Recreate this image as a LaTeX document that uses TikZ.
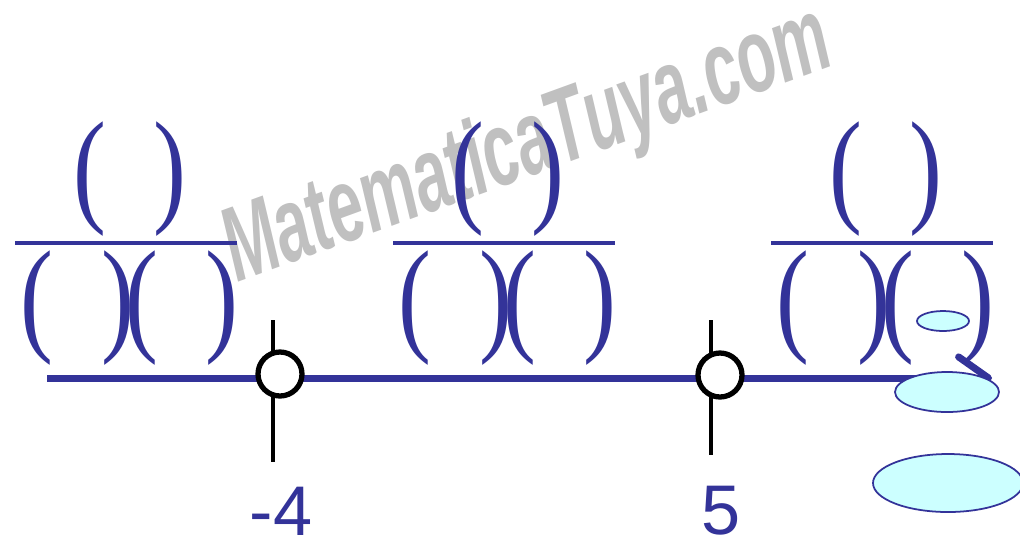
\documentclass[tikz,border=0pt]{standalone}
\usepackage{fontspec}
\setmainfont{Liberation Serif}
\newfontfamily\arialfont{Liberation Sans}
\usetikzlibrary{arrows.meta}
\definecolor{navy}{RGB}{51,51,153}
\definecolor{bubble}{RGB}{204,255,255}
\definecolor{wmgray}{RGB}{192,192,192}

\begin{document}
\begin{tikzpicture}[x=0.02cm, y=-0.02cm,
    paren/.style  = {inner sep=0pt, text=navy, font=\fontsize{72}{72}\selectfont},
    fracbar/.style= {draw=navy, line width=2pt},
    axis/.style   = {draw=navy, line width=4pt,
                     -{Straight Barb[length=17pt,width=24pt,round]}},
    tick/.style   = {draw=black, line width=1.8pt},
    hole/.style   = {circle, draw=black, fill=white, line width=3pt,
                     minimum size=0.88cm, inner sep=0pt},
    val/.style    = {inner sep=0pt, text=navy,
                     font=\arialfont\fontsize{40}{40}\selectfont},
    wmark/.style  = {inner sep=0pt, text=wmgray,
                     font=\arialfont\bfseries\itshape\fontsize{60}{60}\selectfont},
    cloud/.style  = {draw=navy, fill=bubble, line width=1pt}
]
    \useasboundingbox (0,0) rectangle (1020,539);

    %-- watermark (behind everything) ----------------------------------------
    \node[wmark, rotate=20] (site) at (528,148)
          {\scalebox{0.6}[1]{MatematicaTuya.com}};

    %-- the three empty fractions, one above each interval -------------------
    \foreach \dx/\k in {0/a, 378/b, 756/c}{
        \node[paren] (\k-nl) at ( 89.5+\dx,179) {\scalebox{0.78}[1]{(}};
        \node[paren] (\k-nr) at (169.5+\dx,179) {\scalebox{0.78}[1]{)}};
        \node[paren] (\k-d1) at ( 36.5+\dx,308) {\scalebox{0.78}[1]{(}};
        \node[paren] (\k-d2) at (117.5+\dx,308) {\scalebox{0.78}[1]{)}};
        \node[paren] (\k-d3) at (142.0+\dx,308) {\scalebox{0.78}[1]{(}};
        \node[paren] (\k-d4) at (222.0+\dx,308) {\scalebox{0.78}[1]{)}};
        \draw[fracbar] (15+\dx,243) -- (237+\dx,243);
    }

    %-- number line -----------------------------------------------------------
    \coordinate (start) at (47,378);
    \coordinate (end)   at (992,378);
    \draw[axis] (start) -- (end);

    %-- critical points (open circles) ---------------------------------------
    \draw[tick] (273,320) -- (273,462);
    \draw[tick] (711,320) -- (711,455);
    \node[hole] (p1) at (280,374) {};
    \node[hole] (p2) at (720,375) {};

    \node[val] (v1) at (281,511) {-4};
    \node[val] (v2) at (721,511) {5};

    %-- light blue blobs on the right ----------------------------------------
    \filldraw[cloud] (943,321) ellipse [x radius=26, y radius=10];
    \filldraw[cloud] (947,392) ellipse [x radius=52, y radius=20];
    \filldraw[cloud] (948,483) ellipse [x radius=75, y radius=29];

\end{tikzpicture}
\end{document}
